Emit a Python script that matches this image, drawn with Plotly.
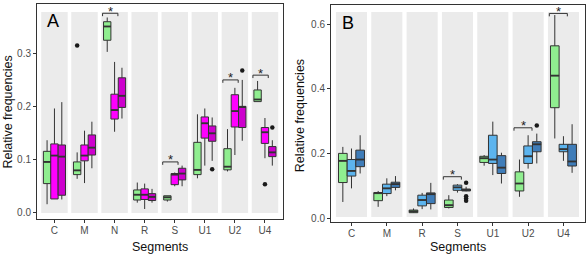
import plotly.graph_objects as go

# ---------------- Panel A data ----------------
seg_A = ["C", "M", "N", "R", "S", "U1", "U2", "U4"]

A_g_lo  = [0.016, 0.064, 0.304, 0.019, 0.021, 0.065, 0.078, 0.210]
A_g_q1  = [0.055, 0.072, 0.326, 0.024, 0.024, 0.072, 0.081, 0.210]
A_g_med = [0.096, 0.080, 0.352, 0.034, 0.029, 0.081, 0.087, 0.214]
A_g_q3  = [0.116, 0.096, 0.361, 0.043, 0.032, 0.133, 0.121, 0.232]
A_g_hi  = [0.137, 0.114, 0.369, 0.057, 0.032, 0.186, 0.158, 0.249]

A_m1_lo  = [0.026, 0.056, 0.153, 0.007, 0.050, 0.089, 0.109, 0.103]
A_m1_q1  = [0.026, 0.098, 0.177, 0.025, 0.053, 0.141, 0.162, 0.131]
A_m1_med = [0.108, 0.108, 0.194, 0.034, 0.072, 0.169, 0.192, 0.152]
A_m1_q3  = [0.130, 0.128, 0.224, 0.045, 0.074, 0.181, 0.223, 0.161]
A_m1_hi  = [0.197, 0.155, 0.285, 0.055, 0.076, 0.197, 0.236, 0.179]

A_m2_lo  = [0.025, 0.084, 0.178, 0.019, 0.050, 0.098, 0.136, 0.089]
A_m2_q1  = [0.033, 0.109, 0.199, 0.023, 0.062, 0.135, 0.161, 0.106]
A_m2_med = [0.106, 0.123, 0.221, 0.030, 0.074, 0.150, 0.200, 0.114]
A_m2_q3  = [0.128, 0.147, 0.255, 0.036, 0.084, 0.164, 0.201, 0.125]
A_m2_hi  = [0.209, 0.172, 0.274, 0.045, 0.089, 0.180, 0.251, 0.137]

# outliers: (segment, value)
A_g_out_seg  = ["M"]
A_g_out_val  = [0.316]
A_m1_out_seg = ["U4"]
A_m1_out_val = [0.054]
A_m2_out_seg = ["U1", "U2", "U4"]
A_m2_out_val = [0.082, 0.269, 0.161]

# significance brackets
A_sig_seg = ["N", "S", "U2", "U4"]
A_sig_h   = [0.377, 0.096, 0.251, 0.260]

# ---------------- Panel B data ----------------
seg_B = ["C", "M", "R", "S", "U1", "U2", "U4"]

B_g_lo  = [0.051, 0.036, 0.017, 0.031, 0.163, 0.067, 0.247]
B_g_q1  = [0.111, 0.055, 0.018, 0.034, 0.173, 0.085, 0.342]
B_g_med = [0.178, 0.079, 0.022, 0.041, 0.186, 0.108, 0.441]
B_g_q3  = [0.201, 0.080, 0.026, 0.057, 0.192, 0.144, 0.533]
B_g_hi  = [0.221, 0.085, 0.031, 0.072, 0.196, 0.182, 0.628]

B_lb_lo  = [0.093, 0.069, 0.029, 0.080, 0.134, 0.154, 0.178]
B_lb_q1  = [0.131, 0.077, 0.039, 0.087, 0.170, 0.170, 0.206]
B_lb_med = [0.147, 0.093, 0.057, 0.096, 0.182, 0.192, 0.214]
B_lb_q3  = [0.182, 0.106, 0.072, 0.103, 0.257, 0.224, 0.229]
B_lb_hi  = [0.216, 0.124, 0.079, 0.106, 0.299, 0.257, 0.254]

B_db_lo  = [0.139, 0.087, 0.028, 0.084, 0.108, 0.170, 0.141]
B_db_q1  = [0.160, 0.096, 0.046, 0.085, 0.139, 0.206, 0.162]
B_db_med = [0.182, 0.106, 0.075, 0.088, 0.157, 0.229, 0.176]
B_db_q3  = [0.211, 0.112, 0.079, 0.091, 0.194, 0.237, 0.229]
B_db_hi  = [0.257, 0.131, 0.110, 0.098, 0.203, 0.262, 0.291]

B_db_out_seg = ["S", "S", "S", "S", "U2"]
B_db_out_val = [0.110, 0.069, 0.062, 0.055, 0.287]

B_sig_seg = ["S", "U2", "U4"]
B_sig_h   = [0.129, 0.280, 0.633]

# ---------------- styling ----------------
GREEN = "#90EE90"
MAG1 = "#FF00FF"
MAG2 = "#CD00CD"
LBLUE = "#5CB4EE"
DBLUE = "#3F7DB9"
LINE = "#333333"
PANEL = "#EBEBEB"
FONT = "Liberation Sans, Arial, sans-serif"

BW = 0.245             # box width (category units)
OFFS = [-BW, 0.0, BW]  # group offsets

fig = go.Figure()


def add_boxes(segs, stats, color, k, xa, ya):
    lo, q1, med, q3, hi = stats
    idx = list(range(len(segs)))
    fig.add_trace(go.Box(
        x=[i + OFFS[k] for i in idx], lowerfence=lo, q1=q1, median=med, q3=q3,
        upperfence=hi, width=BW, fillcolor=color,
        line=dict(color=LINE, width=1), whiskerwidth=0,
        boxpoints=False, showlegend=False, xaxis=xa, yaxis=ya))
    # thicker median bar (ggplot style)
    mx, my = [], []
    for i, m in zip(idx, med):
        c = i + OFFS[k]
        mx += [c - BW / 2, c + BW / 2, None]
        my += [m, m, None]
    fig.add_trace(go.Scatter(x=mx, y=my, mode="lines",
                             line=dict(color=LINE, width=1.8),
                             showlegend=False, hoverinfo="skip",
                             xaxis=xa, yaxis=ya))


def add_outliers(segs, oseg, oval, k, xa, ya):
    xs = [segs.index(s) + OFFS[k] for s in oseg]
    fig.add_trace(go.Scatter(
        x=xs, y=oval, mode="markers",
        marker=dict(color="#1a1a1a", size=4.5),
        showlegend=False, xaxis=xa, yaxis=ya))


def add_sig(segs, sseg, sh, tick, xa, ya):
    for s, h in zip(sseg, sh):
        i = segs.index(s)
        x0, x1 = i - 0.40, i + 0.11
        fig.add_trace(go.Scatter(
            x=[x0, x0, x1, x1], y=[h - tick, h, h, h - tick], mode="lines",
            line=dict(color=LINE, width=1), showlegend=False,
            xaxis=xa, yaxis=ya, hoverinfo="skip"))
        fig.add_annotation(x=(x0 + x1) / 2, y=h, xref=xa, yref=ya,
                           text="*", showarrow=False, xanchor="center",
                           yanchor="middle", yshift=2,
                           font=dict(size=13, color="#222", family=FONT))


# Panel A
add_boxes(seg_A, (A_g_lo, A_g_q1, A_g_med, A_g_q3, A_g_hi), GREEN, 0, "x", "y")
add_boxes(seg_A, (A_m1_lo, A_m1_q1, A_m1_med, A_m1_q3, A_m1_hi), MAG1, 1, "x", "y")
add_boxes(seg_A, (A_m2_lo, A_m2_q1, A_m2_med, A_m2_q3, A_m2_hi), MAG2, 2, "x", "y")
add_outliers(seg_A, A_g_out_seg, A_g_out_val, 0, "x", "y")
add_outliers(seg_A, A_m1_out_seg, A_m1_out_val, 1, "x", "y")
add_outliers(seg_A, A_m2_out_seg, A_m2_out_val, 2, "x", "y")
add_sig(seg_A, A_sig_seg, A_sig_h, 0.0055, "x", "y")

# Panel B
add_boxes(seg_B, (B_g_lo, B_g_q1, B_g_med, B_g_q3, B_g_hi), GREEN, 0, "x2", "y2")
add_boxes(seg_B, (B_lb_lo, B_lb_q1, B_lb_med, B_lb_q3, B_lb_hi), LBLUE, 1, "x2", "y2")
add_boxes(seg_B, (B_db_lo, B_db_q1, B_db_med, B_db_q3, B_db_hi), DBLUE, 2, "x2", "y2")
add_outliers(seg_B, B_db_out_seg, B_db_out_val, 2, "x2", "y2")
add_sig(seg_B, B_sig_seg, B_sig_h, 0.009, "x2", "y2")

# grey facet panels
for i in range(len(seg_A)):
    fig.add_shape(type="rect", xref="x", yref="y domain", x0=i - 0.44, x1=i + 0.44,
                  y0=0.028, y1=0.963, fillcolor=PANEL, line_width=0, layer="below")
for i in range(len(seg_B)):
    fig.add_shape(type="rect", xref="x2", yref="y2 domain", x0=i - 0.44, x1=i + 0.44,
                  y0=0.023, y1=0.968, fillcolor=PANEL, line_width=0, layer="below")

axis_common = dict(showline=True, linecolor=LINE, linewidth=1, mirror=True,
                   ticks="outside", ticklen=3, tickcolor=LINE, showgrid=False,
                   zeroline=False, tickfont=dict(size=10, color="#4D4D4D", family=FONT))

fig.update_layout(
    width=586, height=257,
    margin=dict(l=37, r=1, t=4, b=35),
    paper_bgcolor="white", plot_bgcolor="white",
    boxmode="overlay",
    font=dict(family=FONT),
    xaxis=dict(domain=[0, 0.4489], range=[-0.58, 7.6], tickmode="array",
               tickvals=list(range(len(seg_A))), ticktext=seg_A,
               ticklabelstandoff=-1, **axis_common),
    yaxis=dict(domain=[0.0138, 1.0], range=[-0.0119, 0.3945], tickmode="array",
               tickvals=[0.0, 0.1, 0.2, 0.3], ticktext=["0.0", "0.1", "0.2", "0.3"],
               **axis_common),
    xaxis2=dict(domain=[0.5365, 1.0], range=[-0.58, 6.61], tickmode="array",
                tickvals=list(range(len(seg_B))), ticktext=seg_B, anchor="y2",
                ticklabelstandoff=-1, **axis_common),
    yaxis2=dict(domain=[0.0, 0.9954], range=[-0.0108, 0.659], tickmode="array",
                tickvals=[0.0, 0.2, 0.4, 0.6], ticktext=["0.0", "0.2", "0.4", "0.6"],
                anchor="x2", **axis_common),
)

title_font = dict(size=12.5, color="#111", family=FONT)
# axis titles
fig.add_annotation(x=-0.0529, y=0.502, xref="paper", yref="paper", text="Relative frequencies",
                   textangle=-90, showarrow=False, xanchor="center", yanchor="middle",
                   font=title_font)
fig.add_annotation(x=0.4799, y=0.49, xref="paper", yref="paper", text="Relative frequencies",
                   textangle=-90, showarrow=False, xanchor="center", yanchor="middle",
                   font=title_font)
fig.add_annotation(x=0.2245, y=-0.114, xref="paper", yref="paper", text="Segments",
                   showarrow=False, xanchor="center", yanchor="middle", font=title_font)
fig.add_annotation(x=0.768, y=-0.114, xref="paper", yref="paper", text="Segments",
                   showarrow=False, xanchor="center", yanchor="middle", font=title_font)
# panel letters
fig.add_annotation(x=0.0292, y=0.92, xref="paper", yref="paper", text="A",
                   showarrow=False, xanchor="center", yanchor="middle",
                   font=dict(size=18, color="#000", family=FONT))
fig.add_annotation(x=0.5675, y=0.912, xref="paper", yref="paper", text="B",
                   showarrow=False, xanchor="center", yanchor="middle",
                   font=dict(size=18, color="#000", family=FONT))

fig.write_html("out.html")
